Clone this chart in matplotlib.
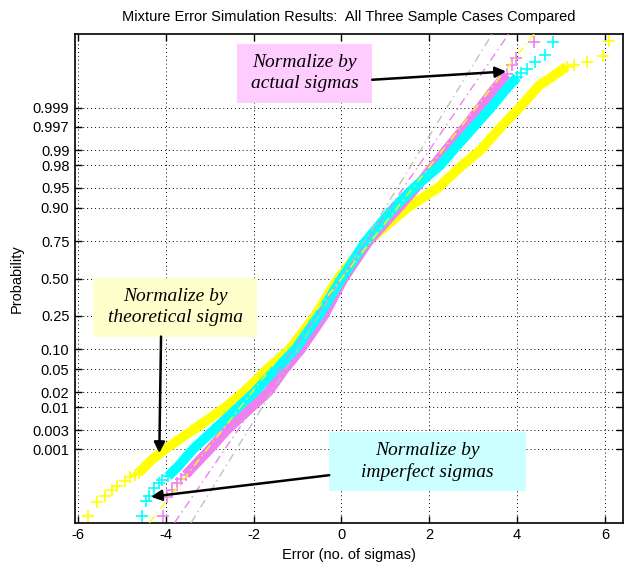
import matplotlib
matplotlib.use('Agg')
import matplotlib.pyplot as plt
from matplotlib.patches import Rectangle
from statistics import NormalDist

plt.rcParams['font.family'] = ['Liberation Sans', 'DejaVu Sans']

# values: x = error (sigmas), z = normal quantile of plotting position
# dense part of each sample (drawn as a band)
yel_x = [-4.62, -4.32, -4.02, -3.40, -2.64, -2.22, -1.70, -1.18, -0.60, -0.08, 0.60, 1.50, 2.20, 2.75, 3.17, 3.64, 4.05, 4.51, 4.81, 5.13]
yel_z = [-3.52, -3.28, -3.09, -2.75, -2.33, -2.05, -1.645, -1.28, -0.674, 0.0, 0.674, 1.28, 1.645, 2.05, 2.33, 2.75, 3.09, 3.50, 3.66, 3.84]
cya_x = [-3.95, -3.72, -3.38, -2.92, -2.35, -1.97, -1.50, -1.05, -0.52, 0.0, 0.55, 1.19, 1.65, 2.25, 2.55, 3.02, 3.40, 3.72, 4.00]
cya_z = [-3.58, -3.40, -3.09, -2.75, -2.33, -2.05, -1.645, -1.28, -0.674, 0.0, 0.674, 1.28, 1.645, 2.05, 2.33, 2.75, 3.09, 3.40, 3.65]
mag_x = [-3.55, -3.00, -2.62, -2.05, -1.66, -1.30, -0.92, -0.40, 0.05, 0.62, 1.30, 1.70, 2.10, 2.38, 2.82, 3.15, 3.45, 3.76]
mag_z = [-3.55, -3.09, -2.75, -2.33, -2.05, -1.645, -1.28, -0.674, 0.0, 0.674, 1.28, 1.645, 2.05, 2.33, 2.75, 3.09, 3.40, 3.70]

# sparse tail points (single crosses)
yel_tail_x = [-5.78, -5.58, -5.39, -5.23, -5.11, -4.93, -4.81, -4.70, 5.30, 5.60, 5.95, 6.10]
yel_tail_z = [-4.30, -4.04, -3.94, -3.82, -3.75, -3.66, -3.60, -3.56, 3.86, 3.92, 4.03, 4.30]
cya_tail_x = [-4.55, -4.45, -4.39, -4.26, -4.15, -4.08, 4.10, 4.22, 4.40, 4.64, 4.81]
cya_tail_z = [-4.30, -4.02, -3.93, -3.80, -3.70, -3.64, 3.72, 3.80, 3.93, 4.05, 4.28]
mag_tail_x = [-4.07, -3.98, -3.86, -3.75, -3.65, 3.88, 3.97, 4.39]
mag_tail_z = [-4.30, -3.96, -3.82, -3.70, -3.62, 3.86, 4.00, 4.29]

# fitted reference lines (sigma of each line, mean 0)
ref_sigma = [0.775, 0.86, 0.99]
ref_color = ['#c0c0c0', '#f080f0', '#ffff00']

prob_ticks = [0.001, 0.003, 0.01, 0.02, 0.05, 0.10, 0.25, 0.50, 0.75, 0.90, 0.95, 0.98, 0.99, 0.997, 0.999]
prob_labels = ['0.001', '0.003', '0.01', '0.02', '0.05', '0.10', '0.25', '0.50', '0.75', '0.90', '0.95', '0.98', '0.99', '0.997', '0.999']
x_ticks = [-6, -4, -2, 0, 2, 4, 6]

YEL = '#ffff00'
CYA = '#00ffff'
MAG = '#f080f0'

fig = plt.figure(figsize=(6.24, 5.71), dpi=100)
ax = fig.add_axes([0.1202, 0.0846, 0.878, 0.856])

ylim = (-4.42, 4.43)

# sample bands + tails
for bx, bz, tx, tz, c in [(yel_x, yel_z, yel_tail_x, yel_tail_z, YEL),
                          (mag_x, mag_z, mag_tail_x, mag_tail_z, MAG),
                          (cya_x, cya_z, cya_tail_x, cya_tail_z, CYA)]:
    ax.plot(bx, bz, '-', color=c, lw=7, solid_capstyle='butt', solid_joinstyle='round', zorder=2)
    ax.plot(bx, bz, '+', color=c, ms=8, mew=1.2, zorder=2)
    ax.plot(tx, tz, '+', color=c, ms=8, mew=1.2, zorder=2)

# reference lines
for s, c in zip(ref_sigma, ref_color):
    ax.plot([s * ylim[0], s * ylim[1]], list(ylim), color=c, lw=1,
            dashes=(6, 3, 1, 3), zorder=3)

ax.set_xlim(-6.07, 6.41)
ax.set_ylim(*ylim)
ax.set_xticks(x_ticks)
ax.set_xticklabels([str(t) for t in x_ticks])
ax.set_yticks([NormalDist().inv_cdf(p) for p in prob_ticks])
ax.set_yticklabels(prob_labels)
ax.tick_params(direction='in', length=5, width=1, labelsize=10.5, top=True, right=True, pad=4)
ax.grid(True, color='k', linestyle=(0, (1, 3)), lw=0.7)
for sp in ax.spines.values():
    sp.set_linewidth(1.2)

ax.set_title('Mixture Error Simulation Results:  All Three Sample Cases Compared', fontsize=10.5, pad=9)
ax.set_xlabel('Error (no. of sigmas)', fontsize=10.5, labelpad=4)
ax.set_ylabel('Probability', fontsize=10.5, labelpad=6)

# annotation boxes
serif = dict(family=['Liberation Serif', 'DejaVu Serif'], style='italic', fontsize=14)
boxes = [((-2.38, 3.18), 3.08, 1.07, '#ffccff', (-0.84, 3.72), 'Normalize by\nactual sigmas'),
         ((-5.65, -1.05), 3.72, 1.06, '#ffffcc', (-3.79, -0.52), 'Normalize by\ntheoretical sigma'),
         ((-0.28, -3.84), 4.48, 1.06, '#ccffff', (1.96, -3.31), 'Normalize by\nimperfect sigmas')]
for (x0, y0), w, h, fc, (tx, ty), txt in boxes:
    ax.add_patch(Rectangle((x0, y0), w, h, facecolor=fc, edgecolor='none', zorder=4))
    ax.text(tx, ty, txt, ha='center', va='center', linespacing=1.3, zorder=5, **serif)

arrow = dict(arrowstyle='-|>', color='k', lw=1.8, mutation_scale=16, shrinkA=0, shrinkB=0)
ax.annotate('', xy=(3.75, 3.75), xytext=(0.70, 3.60), arrowprops=arrow, zorder=6)
ax.annotate('', xy=(-4.15, -3.16), xytext=(-4.11, -1.05), arrowprops=arrow, zorder=6)
ax.annotate('', xy=(-4.34, -3.95), xytext=(-0.28, -3.56), arrowprops=arrow, zorder=6)

fig.savefig('out.png', dpi=100)
